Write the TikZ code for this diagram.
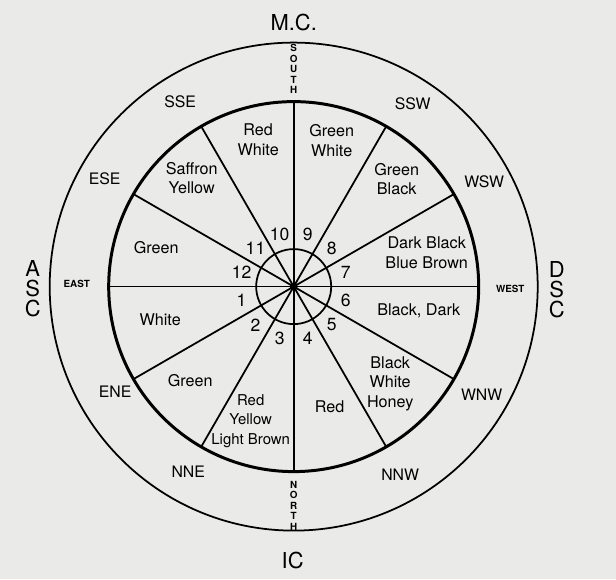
\documentclass[tikz,border=0pt]{standalone}
\usepackage{fontspec}
\setmainfont{TeX Gyre Heros}
\usepackage{tikz}
\usetikzlibrary{positioning}
\definecolor{paper}{RGB}{234,234,232}

\begin{document}
\begin{tikzpicture}[
            x=0.02cm, y=0.02cm,
            every node/.style={font=\fontsize{9.2}{11}\selectfont, align=center, inner sep=0pt},
            num/.style={font=\fontsize{10}{11}\selectfont},
            point/.style={font=\fontsize{9}{10}\selectfont},
            tiny/.style={font=\fontsize{5.6}{6}\selectfont\bfseries},
            angle/.style={font=\fontsize{12.5}{11.4}\selectfont},
            spoke/.style={line width=1pt},
        ]
            % paper and frame
            \fill[paper] (-293.7,-292.4) rectangle (322.3,286.6);
            \useasboundingbox (-293.7,-292.4) rectangle (322.3,286.6);

            % rings
            \draw[line width=1pt] (0,0) circle (244);
            \draw[line width=1.7pt] (0,0) circle (185);
            \draw[line width=1pt] (0,0) circle (37.5);

            % hub and spokes
            \node[circle, fill=black, minimum size=8*0.02cm] (hub) at (0,0) {};
            \foreach \a in {0,30,...,330} {
                \coordinate (rim\a) at (\a:185);
                \draw[spoke] (hub.center) -- (rim\a);
            }

            % house numbers
            \foreach \n in {1,...,12}
                \node[num] (h\n) at ({195+30*(\n-1)}:54) {\n};

            % colours of the houses
            \node (c1) at (-133.5,-33.5) {White};
            \node (c2) at (-103.5,-94) {Green};
            \node[font=\fontsize{8.5}{11}\selectfont] (c3) at (-43,-134.5) {Red\\Yellow\\Light Brown};
            \node (c4) at (36,-120) {Red};
            \node (c5) at (96.5,-97) {Black\\White\\Honey};
            \node (c6) at (125,-24) {Black, Dark};
            \node (c7) at (133,34) {Dark Black\\Blue Brown};
            \node (c8) at (103,107.3) {Green\\Black};
            \node (c9) at (38,146) {Green\\White};
            \node (c10) at (-35.5,147) {Red\\White};
            \node (c11) at (-102,108.7) {Saffron\\Yellow};
            \node (c12) at (-137.5,39) {Green};

            % directions in the outer ring
            \node[point] (sse) at (-113.5,184.5) {SSE};
            \node[point] (ssw) at (119,183) {SSW};
            \node[point] (ese) at (-189,107.5) {ESE};
            \node[point] (wsw) at (190.5,105) {WSW};
            \node[point] (ene) at (-178.5,-105) {ENE};
            \node[point] (wnw) at (188,-108.5) {WNW};
            \node[point] (nne) at (-105.5,-185) {NNE};
            \node[point] (nnw) at (106.5,-188.5) {NNW};
            \node[tiny] (east) at (-217,3) {EAST};
            \node[tiny] (west) at (216.5,-2) {WEST};
            \node[tiny] (south) at (0,217.5) {S\\O\\U\\T\\H};
            \node[tiny] (north) at (0,-219) {N\\O\\R\\T\\H};

            % angles
            \node[angle] (mc) at (0,264) {M.C.};
            \node[angle] (ic) at (-1,-273.5) {IC};
            \node[angle] (asc) at (-261,-2) {A\\S\\C};
            \node[angle] (dsc) at (263,-3.5) {D\\S\\C};
        \end{tikzpicture}
\end{document}
